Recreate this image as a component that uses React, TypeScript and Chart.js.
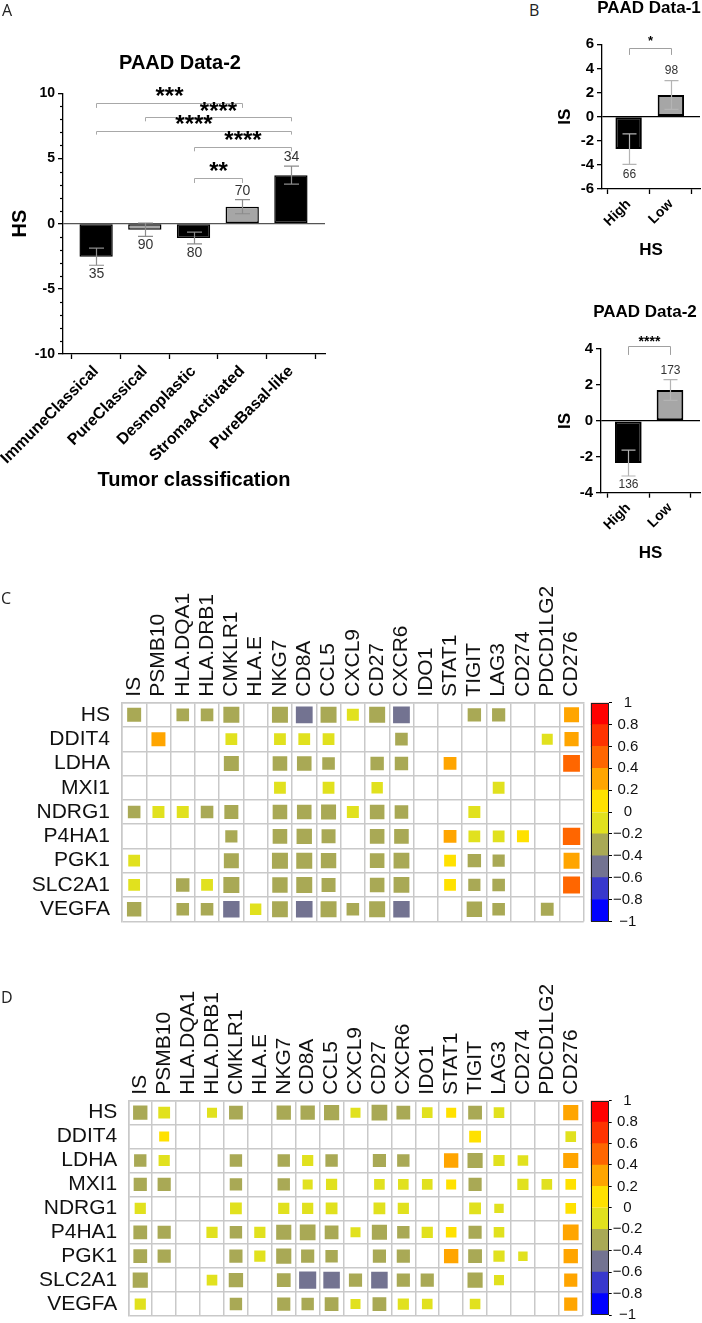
import React, { useEffect, useRef } from 'react';
import { Chart, registerables } from 'chart.js';

Chart.register(...registerables);

const FONT = '"Liberation Sans", Arial, Helvetica, sans-serif';
const n = null;

// ---------------- Panel A data ----------------
const A_CATEGORIES = ['ImmuneClassical', 'PureClassical', 'Desmoplastic', 'StromaActivated', 'PureBasal-like'];
const A_MEANS = [-2.53, -0.46, -1.1, 1.3, 3.72];
const A_ERRORS = [0.66, 0.51, 0.45, 0.54, 0.69];
const A_COUNTS = [35, 90, 80, 70, 34];
const A_FILLS = ['#000000', '#a6a6a6', '#000000', '#a6a6a6', '#000000'];
const A_BRACKET_FROM = [0, 1, 0, 2, 2];
const A_BRACKET_TO = [3, 4, 4, 4, 3];
const A_BRACKET_LINE = [9.26, 8.19, 7.14, 5.89, 3.51];
const A_BRACKET_LEG = [8.88, 7.85, 6.83, 5.55, 3.12];
const A_BRACKET_STAR = [10.08, 8.98, 7.93, 6.7, 4.32];
const A_BRACKET_LABELS = ['***', '****', '****', '****', '**'];

// ---------------- Panel B data ----------------
const B_CATEGORIES = ['High', 'Low'];
const B_FILLS = ['#000000', '#a6a6a6'];
const B1_MEANS = [-2.69, 1.8];
const B1_ERRORS = [1.26, 1.19];
const B1_COUNTS = [66, 98];
const B1_BRACKET_LINE = [5.72];
const B1_BRACKET_LEG = [5.12];
const B1_BRACKET_STAR = [6.5];
const B1_BRACKET_LABELS = ['*'];
const B2_MEANS = [-2.35, 1.72];
const B2_ERRORS = [0.72, 0.58];
const B2_COUNTS = [136, 173];
const B2_BRACKET_LINE = [4.18];
const B2_BRACKET_LEG = [3.67];
const B2_BRACKET_STAR = [4.57];
const B2_BRACKET_LABELS = ['****'];

// ---------------- Heatmap data ----------------
const HM_COLUMNS = ['IS', 'PSMB10', 'HLA.DQA1', 'HLA.DRB1', 'CMKLR1', 'HLA.E', 'NKG7', 'CD8A', 'CCL5', 'CXCL9', 'CD27', 'CXCR6', 'IDO1', 'STAT1', 'TIGIT', 'LAG3', 'CD274', 'PDCD1LG2', 'CD276'];
const HM_ROWS = ['HS', 'DDIT4', 'LDHA', 'MXI1', 'NDRG1', 'P4HA1', 'PGK1', 'SLC2A1', 'VEGFA'];

const C_VALUES: (number | null)[][] = [
  [-0.29, n, -0.22, -0.22, -0.39, n, -0.39, -0.43, -0.39, -0.19, -0.39, -0.43, n, n, -0.26, -0.25, n, n, 0.34],
  [n, 0.29, n, n, -0.18, n, -0.18, -0.18, -0.18, n, n, -0.22, n, n, n, n, n, -0.14, 0.3],
  [n, n, n, n, -0.34, n, -0.32, -0.32, -0.22, n, -0.26, -0.26, n, 0.23, n, n, n, n, 0.43],
  [n, n, n, n, n, n, -0.18, n, -0.18, n, -0.16, n, n, n, n, -0.18, n, n, n],
  [-0.22, -0.19, -0.19, -0.22, -0.29, n, -0.32, -0.32, -0.34, -0.19, -0.32, -0.27, n, n, -0.19, n, n, n, n],
  [n, n, n, n, -0.2, n, -0.32, -0.36, -0.29, n, -0.32, -0.32, n, 0.23, -0.18, -0.18, 0.19, n, 0.46],
  [-0.18, n, n, n, -0.34, n, -0.39, -0.39, -0.36, n, -0.32, -0.38, n, 0.18, -0.26, -0.2, n, n, 0.39],
  [-0.18, n, -0.26, -0.18, -0.39, n, -0.36, -0.39, -0.29, n, -0.32, -0.38, n, 0.18, -0.2, -0.22, n, n, 0.44],
  [-0.31, n, -0.22, -0.22, -0.41, -0.16, -0.38, -0.42, -0.39, -0.22, -0.39, -0.41, n, n, -0.36, -0.22, n, -0.23, n],
];

const D_VALUES: (number | null)[][] = [
  [-0.32, -0.19, n, -0.1, -0.29, n, -0.32, -0.32, -0.36, -0.1, -0.39, -0.29, -0.13, 0.1, -0.29, -0.13, n, n, 0.36],
  [n, 0.1, n, n, n, n, n, n, n, n, n, n, n, n, 0.19, n, n, n, -0.13],
  [-0.22, -0.16, n, n, -0.22, n, -0.22, -0.16, -0.22, n, -0.26, -0.22, n, 0.32, -0.36, -0.16, -0.13, n, 0.36],
  [-0.26, -0.26, n, n, -0.22, n, -0.22, -0.1, -0.16, n, -0.13, -0.13, -0.13, 0.1, -0.26, n, -0.16, -0.13, 0.13],
  [-0.16, n, n, n, -0.19, n, -0.16, -0.16, -0.19, n, -0.19, -0.16, n, n, -0.19, -0.07, n, n, 0.13],
  [-0.29, -0.26, n, -0.16, -0.22, -0.16, -0.36, -0.39, -0.29, -0.1, -0.36, -0.22, -0.16, 0.13, -0.26, -0.13, n, n, 0.39],
  [-0.29, -0.26, n, n, -0.26, -0.16, -0.36, -0.26, -0.22, n, -0.26, -0.26, n, 0.32, -0.29, -0.16, -0.07, n, 0.32],
  [-0.36, n, n, -0.13, -0.32, n, -0.29, -0.46, -0.43, -0.26, -0.43, -0.26, -0.26, n, -0.36, -0.1, n, n, 0.26],
  [-0.16, n, n, n, -0.22, n, -0.26, -0.22, -0.29, -0.1, -0.29, -0.16, -0.13, n, -0.13, n, n, n, 0.26],
];

const COLOR_BREAKS = [-1, -0.8, -0.6, -0.4, -0.2, 0, 0.2, 0.4, 0.6, 0.8, 1];
const COLOR_BINS = ['#0000ff', '#3838cc', '#737391', '#a9a955', '#e1e11e', '#ffe100', '#ffa500', '#ff6600', '#ff3300', '#ff0000'];
const COLORBAR_TICKS = [-1, -0.8, -0.6, -0.4, -0.2, 0, 0.2, 0.4, 0.6, 0.8, 1];

function binColor(v: number): string {
  for (let i = 0; i < COLOR_BINS.length; i++) {
    if (v <= COLOR_BREAKS[i + 1]) return COLOR_BINS[i];
  }
  return COLOR_BINS[COLOR_BINS.length - 1];
}

function zeroPadding(sc: any) {
  sc.paddingLeft = 0;
  sc.paddingRight = 0;
  sc.paddingTop = 0;
  sc.paddingBottom = 0;
}

// ---------------- Bar panel builder ----------------
function makeBarConfig(s: any) {
  const xTitleLH = s.xTitleSize * 1.2;
  const yTitleLH = s.yTitleSize * 1.2;
  const annot = {
    id: 'barAnnotations',
    afterDraw(chart: any) {
      const { ctx, chartArea } = chart;
      const x = chart.scales.x;
      const y = chart.scales.y;
      ctx.save();
      if (s.minorStep) {
        ctx.strokeStyle = '#000';
        ctx.lineWidth = 1.2;
        for (let v = s.yMin; v <= s.yMax + 1e-9; v += s.minorStep) {
          if (Math.abs(Math.round(v / s.yStep) * s.yStep - v) < 1e-9) continue;
          const py = Math.round(y.getPixelForValue(v)) + 0.5;
          ctx.beginPath();
          ctx.moveTo(chartArea.left - 3, py);
          ctx.lineTo(chartArea.left, py);
          ctx.stroke();
        }
      }
      ctx.lineWidth = 1.2;
      s.means.forEach((m: number, i: number) => {
        const px = Math.round(x.getPixelForValue(i)) + 0.5;
        const hi = y.getPixelForValue(m + s.errors[i]);
        const lo = y.getPixelForValue(m - s.errors[i]);
        ctx.strokeStyle = s.errColor;
        ctx.beginPath();
        ctx.moveTo(px, hi);
        ctx.lineTo(px, lo);
        ctx.moveTo(px - s.capHalf, hi);
        ctx.lineTo(px + s.capHalf, hi);
        ctx.moveTo(px - s.capHalf, lo);
        ctx.lineTo(px + s.capHalf, lo);
        ctx.stroke();
        ctx.fillStyle = '#333';
        ctx.font = `${s.countSize}px ${FONT}`;
        ctx.textAlign = 'center';
        ctx.textBaseline = 'middle';
        const cy = m >= 0 ? hi - s.countGap : lo + s.countGap;
        ctx.fillText(String(s.counts[i]), px, cy);
      });
      ctx.strokeStyle = s.bracketColor;
      ctx.lineWidth = 1;
      s.bracketLine.forEach((lv: number, k: number) => {
        const x1 = Math.round(x.getPixelForValue(s.bracketFrom[k])) + 0.5;
        const x2 = Math.round(x.getPixelForValue(s.bracketTo[k])) + 0.5;
        const yl = Math.round(y.getPixelForValue(lv)) + 0.5;
        const yg = y.getPixelForValue(s.bracketLeg[k]);
        ctx.beginPath();
        ctx.moveTo(x1, yg);
        ctx.lineTo(x1, yl);
        ctx.lineTo(x2, yl);
        ctx.lineTo(x2, yg);
        ctx.stroke();
        ctx.fillStyle = '#000';
        ctx.font = `bold ${s.starSize}px ${FONT}`;
        ctx.textAlign = 'center';
        ctx.textBaseline = 'middle';
        const ys = y.getPixelForValue(s.bracketStar[k]) + 0.225 * s.starSize;
        ctx.fillText(s.bracketLabels[k], (x1 + x2) / 2, ys);
      });
      ctx.fillStyle = '#000';
      ctx.font = `bold ${s.titleSize}px ${FONT}`;
      ctx.textAlign = 'center';
      ctx.textBaseline = 'middle';
      ctx.fillText(s.title, s.titleX, s.titleY);
      ctx.restore();
    },
  };
  return {
    type: 'bar',
    data: {
      datasets: [
        {
          data: s.means.map((v: number, i: number) => ({ x: i, y: v })),
          backgroundColor: s.fills,
          borderColor: '#000',
          borderWidth: s.barBorder,
          borderSkipped: false,
          barPercentage: s.barFrac,
          categoryPercentage: 1,
        },
      ],
    },
    options: {
      responsive: false,
      animation: false,
      events: [],
      layout: { padding: { left: 0, top: s.areaTop, right: s.canvasW - s.areaRight, bottom: 0 } },
      plugins: { legend: { display: false }, tooltip: { enabled: false }, title: { display: false } },
      scales: {
        x: {
          type: 'linear',
          min: s.xMin,
          max: s.xMax,
          offset: false,
          afterBuildTicks: (sc: any) => {
            sc.ticks = s.categories.map((_: string, i: number) => ({ value: i }));
          },
          afterFit: (sc: any) => {
            sc.height = s.canvasH - s.areaBottom;
            zeroPadding(sc);
          },
          ticks: {
            callback: (v: number) => s.categories[v] ?? '',
            font: { family: FONT, size: s.xTickSize, weight: 'bold' },
            color: '#000',
            minRotation: 45,
            maxRotation: 45,
            autoSkip: false,
            padding: s.xTickPad,
          },
          grid: { display: true, drawOnChartArea: false, tickLength: 5, tickColor: '#000', tickWidth: 1.3, color: '#000' },
          border: { display: true, color: '#000', width: 1.3 },
          title: {
            display: true,
            text: s.xTitle,
            color: '#000',
            font: { family: FONT, size: s.xTitleSize, weight: 'bold', lineHeight: 1.2 },
            padding: { top: 0, bottom: s.canvasH - s.xTitleY - xTitleLH / 2 },
          },
        },
        y: {
          type: 'linear',
          min: s.yMin,
          max: s.yMax,
          afterFit: (sc: any) => {
            sc.width = s.areaLeft;
            zeroPadding(sc);
          },
          ticks: {
            stepSize: s.yStep,
            font: { family: FONT, size: s.yTickSize, weight: 'bold' },
            color: '#000',
            padding: 3,
          },
          grid: {
            display: true,
            drawOnChartArea: true,
            color: (c: any) => (c.tick && c.tick.value === 0 ? s.zeroColor : 'rgba(0,0,0,0)'),
            lineWidth: 1.3,
            tickLength: 5,
            tickColor: '#000',
            tickWidth: 1.3,
          },
          border: { display: true, color: '#000', width: 1.3 },
          title: {
            display: true,
            text: s.yTitle,
            color: '#000',
            font: { family: FONT, size: s.yTitleSize, weight: 'bold', lineHeight: 1.2 },
            padding: { top: s.yTitleX - yTitleLH / 2, bottom: 0 },
          },
        },
      },
    },
    plugins: [annot],
  };
}

// ---------------- Heatmap builder ----------------
function makeHeatmapConfig(values: (number | null)[][], s: any) {
  const points: any[] = [];
  values.forEach((row, r) =>
    row.forEach((v, c) => {
      if (v !== null) points.push({ x: HM_COLUMNS[c], y: HM_ROWS[r], v });
    })
  );
  const gridColor = '#c9c9c9';
  return {
    type: 'scatter',
    data: {
      datasets: [
        {
          data: points,
          pointStyle: 'rect',
          pointRadius: (ctx: any) => {
            const v = ctx.raw && typeof ctx.raw.v === 'number' ? ctx.raw.v : 0;
            const xs = ctx.chart.scales.x;
            const cell = xs ? xs.width / HM_COLUMNS.length : 24;
            const side = cell * (0.337 + 0.823 * Math.abs(v));
            return side / Math.SQRT2;
          },
          pointBackgroundColor: (ctx: any) => binColor(ctx.raw ? ctx.raw.v : 0),
          pointBorderWidth: 0,
          pointBorderColor: 'rgba(0,0,0,0)',
        },
      ],
    },
    options: {
      responsive: false,
      animation: false,
      events: [],
      layout: { padding: { left: 0, top: 0, right: s.canvasW - s.areaRight, bottom: s.canvasH - s.areaBottom } },
      plugins: { legend: { display: false }, tooltip: { enabled: false } },
      scales: {
        x: {
          type: 'category',
          labels: HM_COLUMNS,
          position: 'top',
          offset: true,
          afterFit: (sc: any) => {
            sc.height = s.areaTop;
            zeroPadding(sc);
          },
          ticks: {
            font: { family: FONT, size: s.labelSize, lineHeight: 1.2 },
            color: '#111',
            minRotation: 90,
            maxRotation: 90,
            autoSkip: false,
            padding: s.colPad,
            labelOffset: s.labelSize * 1.2,
          },
          grid: { offset: true, color: gridColor, lineWidth: 1.5, drawTicks: false },
          border: { display: true, color: gridColor, width: 1.5 },
        },
        y: {
          type: 'category',
          labels: HM_ROWS,
          offset: true,
          afterFit: (sc: any) => {
            sc.width = s.areaLeft;
            zeroPadding(sc);
          },
          ticks: {
            font: { family: FONT, size: s.labelSize },
            color: '#111',
            autoSkip: false,
            padding: s.rowPad,
          },
          grid: { offset: true, color: gridColor, lineWidth: 1.5, drawTicks: false },
          border: { display: true, color: gridColor, width: 1.5 },
        },
      },
    },
  };
}

// ---------------- Colorbar builder ----------------
function makeColorbarConfig(s: any) {
  const frame = {
    id: 'cbFrame',
    afterDraw(chart: any) {
      const { ctx, chartArea } = chart;
      ctx.save();
      ctx.strokeStyle = '#222';
      ctx.lineWidth = 1;
      ctx.strokeRect(
        Math.round(chartArea.left) + 0.5,
        Math.round(chartArea.top) + 0.5,
        Math.round(chartArea.right - chartArea.left) - 1,
        Math.round(chartArea.bottom - chartArea.top) - 1
      );
      ctx.restore();
    },
  };
  return {
    type: 'bar',
    data: {
      labels: [''],
      datasets: COLOR_BINS.map((c, i) => ({
        data: [[COLOR_BREAKS[i], COLOR_BREAKS[i + 1]]],
        backgroundColor: c,
        borderWidth: 0,
        barPercentage: 1,
        categoryPercentage: 1,
        grouped: false,
      })),
    },
    options: {
      responsive: false,
      animation: false,
      events: [],
      layout: { padding: { left: s.areaLeft, top: s.areaTop, right: 0, bottom: s.canvasH - s.areaBottom } },
      plugins: { legend: { display: false }, tooltip: { enabled: false } },
      scales: {
        x: { display: false },
        y: {
          position: 'right',
          min: -1,
          max: 1,
          afterBuildTicks: (sc: any) => {
            sc.ticks = COLORBAR_TICKS.map((v) => ({ value: v }));
          },
          afterFit: (sc: any) => {
            sc.width = s.canvasW - s.areaRight;
            zeroPadding(sc);
          },
          ticks: {
            callback: (v: number) => String(Math.round(v * 10) / 10).replace('-', '\u2212'),
            font: { family: FONT, size: 15 },
            color: '#111',
            crossAlign: 'center',
            padding: 1,
          },
          grid: { display: true, drawOnChartArea: false, tickLength: 3, tickColor: '#000', tickWidth: 1, color: '#000' },
          border: { display: false },
        },
      },
    },
    plugins: [frame],
  };
}

// ---------------- Canvas component ----------------
function ChartCanvas({ left, top, width, height, config }: any) {
  const ref = useRef<HTMLCanvasElement>(null);
  useEffect(() => {
    if (!ref.current) return;
    const chart = new Chart(ref.current, config);
    return () => chart.destroy();
  }, []);
  return (
    <canvas
      ref={ref}
      width={width}
      height={height}
      style={{ position: 'absolute', left, top, width, height, display: 'block' }}
    />
  );
}

const panelA = makeBarConfig({
  categories: A_CATEGORIES, means: A_MEANS, errors: A_ERRORS, counts: A_COUNTS, fills: A_FILLS,
  bracketFrom: A_BRACKET_FROM, bracketTo: A_BRACKET_TO, bracketLine: A_BRACKET_LINE, bracketLeg: A_BRACKET_LEG,
  bracketStar: A_BRACKET_STAR, bracketLabels: A_BRACKET_LABELS,
  xMin: -0.68, xMax: 4.7, yMin: -10, yMax: 10, yStep: 5, minorStep: 1, barFrac: 0.684,
  canvasW: 340, canvasH: 500, areaLeft: 63, areaTop: 93.3, areaRight: 325, areaBottom: 354,
  title: 'PAAD Data-2', titleX: 180, titleY: 63, titleSize: 20,
  yTitle: 'HS', yTitleSize: 20, yTitleX: 20.7, xTitle: 'Tumor classification', xTitleSize: 20, xTitleY: 480,
  xTickSize: 16, xTickPad: 3, yTickSize: 14, countSize: 14, countGap: 9, errColor: '#8c8c8c', capHalf: 7.5,
  starSize: 24, bracketColor: '#a8a8a8', zeroColor: '#555', barBorder: 1.5,
});

const panelB1 = makeBarConfig({
  categories: B_CATEGORIES, means: B1_MEANS, errors: B1_ERRORS, counts: B1_COUNTS, fills: B_FILLS,
  bracketFrom: [0], bracketTo: [1], bracketLine: B1_BRACKET_LINE, bracketLeg: B1_BRACKET_LEG,
  bracketStar: B1_BRACKET_STAR, bracketLabels: B1_BRACKET_LABELS,
  xMin: -0.63, xMax: 1.69, yMin: -6, yMax: 6, yStep: 2, minorStep: 0, barFrac: 0.625,
  canvasW: 162, canvasH: 270, areaLeft: 62, areaTop: 44.3, areaRight: 160, areaBottom: 189,
  title: 'PAAD Data-1', titleX: 109, titleY: 8, titleSize: 17,
  yTitle: 'IS', yTitleSize: 17, yTitleX: 25, xTitle: 'HS', xTitleSize: 17, xTitleY: 250,
  xTickSize: 14, xTickPad: 2, yTickSize: 15, countSize: 12, countGap: 10, errColor: '#b4b4b4', capHalf: 7,
  starSize: 13, bracketColor: '#a0a0a0', zeroColor: '#000', barBorder: 2,
});

const panelB2 = makeBarConfig({
  categories: B_CATEGORIES, means: B2_MEANS, errors: B2_ERRORS, counts: B2_COUNTS, fills: B_FILLS,
  bracketFrom: [0], bracketTo: [1], bracketLine: B2_BRACKET_LINE, bracketLeg: B2_BRACKET_LEG,
  bracketStar: B2_BRACKET_STAR, bracketLabels: B2_BRACKET_LABELS,
  xMin: -0.655, xMax: 1.72, yMin: -4, yMax: 4, yStep: 2, minorStep: 0, barFrac: 0.64,
  canvasW: 162, canvasH: 300, areaLeft: 61, areaTop: 79, areaRight: 160, areaBottom: 222.7,
  title: 'PAAD Data-2', titleX: 105, titleY: 42, titleSize: 17,
  yTitle: 'IS', yTitleSize: 17, yTitleX: 25, xTitle: 'HS', xTitleSize: 17, xTitleY: 283,
  xTickSize: 14, xTickPad: 2, yTickSize: 15, countSize: 12, countGap: 9, errColor: '#b4b4b4', capHalf: 7,
  starSize: 14, bracketColor: '#a0a0a0', zeroColor: '#000', barBorder: 2,
});

const heatC = makeHeatmapConfig(C_VALUES, {
  canvasW: 590, canvasH: 370, areaLeft: 122, areaTop: 142.7, areaRight: 583.7, areaBottom: 361.4,
  labelSize: 21, colPad: 6, rowPad: 12,
});
const heatD = makeHeatmapConfig(D_VALUES, {
  canvasW: 590, canvasH: 363, areaLeft: 128.3, areaTop: 140.7, areaRight: 582.7, areaBottom: 356,
  labelSize: 21, colPad: 6, rowPad: 11,
});
const barC = makeColorbarConfig({ canvasW: 117, canvasH: 245, areaLeft: 5.7, areaTop: 12.7, areaRight: 24, areaBottom: 231.4 });
const barD = makeColorbarConfig({ canvasW: 117, canvasH: 235, areaLeft: 5.7, areaTop: 12.7, areaRight: 23.7, areaBottom: 227 });

const letterStyle = (left: number, top: number): React.CSSProperties => ({
  position: 'absolute',
  left,
  top,
  fontFamily: '"Open Sans", "Noto Sans", sans-serif',
  fontSize: 16,
  lineHeight: '16px',
  color: '#222',
});

export default function App() {
  return (
    <div style={{ position: 'absolute', left: 0, top: 0, width: 702, height: 1323, background: '#fff', overflow: 'hidden' }}>
      <ChartCanvas left={0} top={0} width={340} height={500} config={panelA} />
      <ChartCanvas left={540} top={0} width={162} height={270} config={panelB1} />
      <ChartCanvas left={540} top={270} width={162} height={300} config={panelB2} />
      <ChartCanvas left={0} top={560} width={590} height={370} config={heatC} />
      <ChartCanvas left={585} top={690} width={117} height={245} config={barC} />
      <ChartCanvas left={0} top={960} width={590} height={363} config={heatD} />
      <ChartCanvas left={585} top={1088} width={117} height={235} config={barD} />
      <div style={letterStyle(2, 2)}>A</div>
      <div style={letterStyle(529, 2)}>B</div>
      <div style={letterStyle(1, 590)}>C</div>
      <div style={letterStyle(1, 989)}>D</div>
    </div>
  );
}
